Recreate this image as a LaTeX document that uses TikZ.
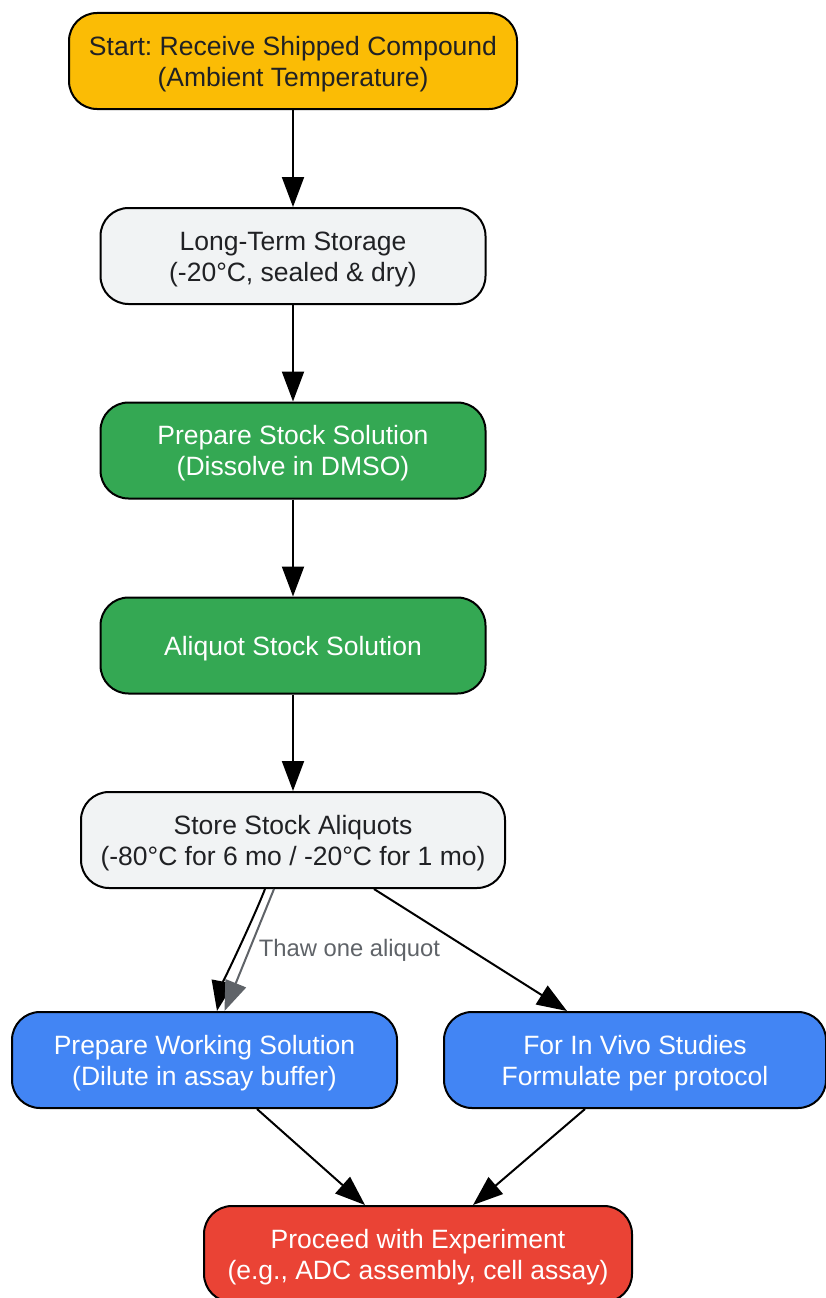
\documentclass[tikz,border=0pt]{standalone}
\usepackage{fontspec}
\setmainfont{Liberation Sans}
\usetikzlibrary{arrows.meta}
\frenchspacing
\definecolor{startyellow}{HTML}{FBBC05}
\definecolor{storegrey}{HTML}{F1F3F4}
\definecolor{prepgreen}{HTML}{34A853}
\definecolor{workblue}{HTML}{4285F4}
\definecolor{endred}{HTML}{EA4335}
\definecolor{textdark}{HTML}{202124}
\definecolor{labelgrey}{HTML}{5F6368}

\begin{document}
\begin{tikzpicture}[x=1pt,y=1pt,
  stepbox/.style={draw=black,line width=2pt,rounded corners=28pt,minimum height=96pt,align=center,text height=56pt,font=\fontsize{26.5}{31}\selectfont},
  oneline/.style={text height=25pt},
  arr/.style={line width=2pt,-{Triangle[length=30pt,width=22pt]}}]
  \useasboundingbox (0,0) rectangle (825,-1298);
  % main chain
  \node[stepbox,fill=startyellow,text=textdark,minimum width=448pt] (start) at (293,-61) {Start: Receive Shipped Compound\\(Ambient Temperature)};
  \node[stepbox,fill=storegrey,text=textdark,minimum width=385pt] (longterm) at (293,-256) {Long-Term Storage\\(-20°C, sealed \& dry)};
  \node[stepbox,fill=prepgreen,text=white,minimum width=385pt] (stock) at (293,-450.5) {Prepare Stock Solution\\(Dissolve in DMSO)};
  \node[stepbox,oneline,fill=prepgreen,text=white,minimum width=385pt] (aliquot) at (293,-645.5) {Aliquot Stock Solution};
  \node[stepbox,fill=storegrey,text=textdark,minimum width=424pt] (storealiq) at (293,-840) {Store Stock Aliquots\\(-80°C for 6 mo / -20°C for 1 mo)};
  % branches
  \node[stepbox,fill=workblue,text=white,minimum width=385pt] (working) at (204.5,-1060) {Prepare Working Solution\\(Dilute in assay buffer)};
  \node[stepbox,fill=workblue,text=white,minimum width=382pt] (invivo) at (635,-1060) {For In Vivo Studies\\Formulate per protocol};
  \node[stepbox,fill=endred,text=white,minimum width=428pt] (proceed) at (418,-1254) {Proceed with Experiment\\(e.g., ADC assembly, cell assay)};

  \draw[arr] (start) -- (longterm);
  \draw[arr] (longterm) -- (stock);
  \draw[arr] (stock) -- (aliquot);
  \draw[arr] (aliquot) -- (storealiq);
  \draw[arr] ([xshift=-28pt]storealiq.south) .. controls (255,-915) and (222,-985) .. ([xshift=12.5pt]working.north);
  \draw[arr,labelgrey] ([xshift=-19pt]storealiq.south) -- node[pos=0.5,anchor=west,inner sep=2pt,xshift=6.5pt,font=\fontsize{23.8}{28}\selectfont] (thaw) {Thaw one aliquot} ([xshift=20pt]working.north);
  \draw[arr] ([xshift=81pt]storealiq.south) -- ([xshift=-68pt]invivo.north);
  \draw[arr] ([xshift=52.5pt]working.south) -- ([xshift=-53pt]proceed.north);
  \draw[arr] ([xshift=-50pt]invivo.south) -- ([xshift=55pt]proceed.north);
\end{tikzpicture}
\end{document}
